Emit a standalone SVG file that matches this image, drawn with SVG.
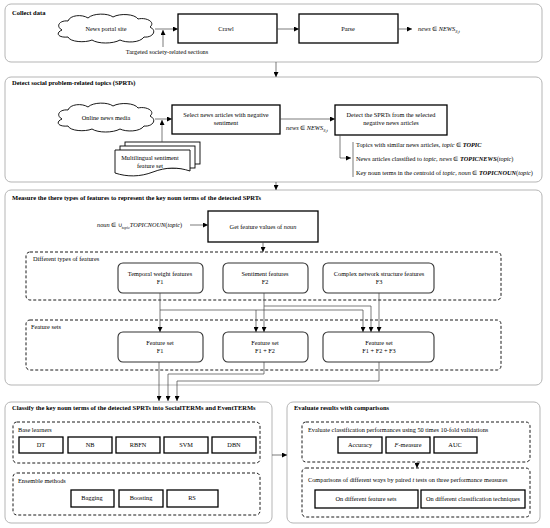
<svg xmlns="http://www.w3.org/2000/svg" xmlns:xlink="http://www.w3.org/1999/xlink" width="550" height="528" viewBox="0 0 550 528">
<defs>
<marker id="ah" markerUnits="userSpaceOnUse" markerWidth="5" markerHeight="5" refX="5" refY="2.5" orient="auto"><path d="M0,0 L5,2.5 L0,5 Z" fill="#000"/></marker>
<path id="cloud" d="M62,30 C55,26 60,20 68,21 C70,15 82,14 88,18 C93,13 108,13 113,17 C120,13 135,14 138,19 C146,17 156,22 150,27 C158,31 152,38 144,37 C140,43 126,43 120,40 C113,44 98,44 92,40 C85,43 70,42 68,37 C58,38 55,33 62,30 Z"/>
</defs>
<style>
text{font-family:"Liberation Serif","Times New Roman",serif;font-size:6.3px;fill:#000}
.t{font-weight:bold;font-size:6.5px}
.m{text-anchor:middle}
.i{font-style:italic}
.sec{fill:#fff;stroke:#b5b5b5;stroke-width:1}
.box{fill:#fff;stroke:#000;stroke-width:1.3}
.rbox{fill:#fff;stroke:#333;stroke-width:1.1}
.dash{fill:none;stroke:#000;stroke-width:0.9;stroke-dasharray:3,2}
.c{fill:none;stroke:#444;stroke-width:0.7}
.a{marker-end:url(#ah)}
.cl{fill:#fff;stroke:#000;stroke-width:0.9}
</style>
<rect width="550" height="528" fill="#fff"/>

<g id="sec1">
<rect class="sec" x="5" y="4" width="537" height="58" rx="6"/>
<text class="t" x="12" y="15">Collect data</text>
</g>
<g id="sec2">
<rect class="sec" x="5" y="77" width="537" height="105" rx="6"/>
<text class="t" x="12" y="85">Detect social problem-related topics (SPRTs)</text>
</g>
<g id="sec3">
<rect class="sec" x="5" y="190" width="537" height="195" rx="6"/>
<text class="t" x="12" y="200">Measure the there types of features to represent the key noun terms of the detected SPRTs</text>
</g>
<g id="sec4">
<rect class="sec" x="5" y="402" width="267" height="121" rx="6"/>
<text class="t" x="12" y="410">Classify the key noun terms of the detected SPRTs into SocialTERMs and EventTERMs</text>
</g>
<g id="sec5">
<rect class="sec" x="287" y="402" width="253" height="121" rx="6"/>
<text class="t" x="294" y="410">Evaluate results with comparisons</text>
</g>

<g id="newsportal">
<use xlink:href="#cloud" class="cl"/>
<text class="m" x="106" y="31">News portal site</text>
</g>
<g id="targeted"><text class="m" x="167" y="54">Targeted society-related sections</text></g>
<g id="crawl"><rect class="box" x="178" y="14" width="99" height="29"/><text class="m" x="226" y="31">Crawl</text></g>
<g id="parse"><rect class="box" x="299" y="14" width="99" height="29"/><text class="m" x="348" y="31">Parse</text></g>
<g id="newsout"><text x="418" y="31"><tspan class="i">news</tspan> ∈ <tspan class="i">NEWS</tspan><tspan class="i" font-size="4.5" dy="1.5">S,t</tspan></text></g>

<g id="onlinenews">
<use xlink:href="#cloud" class="cl" transform="translate(0,89)"/>
<text class="m" x="106" y="120">Online news media</text>
</g>
<g id="multilingual">
<rect class="cl" x="125" y="142" width="75" height="22"/>
<rect class="cl" x="120" y="146" width="75" height="22"/>
<path class="cl" d="M115,150 H190 V171 C178,167 166,167 153,172 C140,177 127,177 115,173 Z"/>
<text class="m" x="150" y="160">Multilingual sentiment</text>
<text class="m" x="150" y="168">feature set</text>
</g>
<g id="select"><rect class="box" x="172" y="105" width="108" height="29"/><text class="m" x="226" y="117">Select news articles with negative</text><text class="m" x="226" y="125">sentiment</text></g>
<g id="newslabel2"><text x="286" y="130"><tspan class="i">news</tspan> ∈ <tspan class="i">NEWS</tspan><tspan class="i" font-size="4.5" dy="1.5">S,t</tspan></text></g>
<g id="detect"><rect class="box" x="335" y="105" width="112" height="30"/><text class="m" x="391" y="117">Detect the SPRTs from the selected</text><text class="m" x="391" y="125">negative news articles</text></g>
<g id="outputs">
<text x="356" y="147">Topics with similar news articles, <tspan class="i">topic</tspan> ∈ <tspan class="i" font-weight="bold">TOPIC</tspan></text>
<text x="356" y="161">News articles classified to <tspan class="i">topic</tspan>, <tspan class="i">news</tspan> ∈ <tspan class="i" font-weight="bold">TOPICNEWS</tspan>(<tspan class="i">topic</tspan>)</text>
<text x="356" y="175">Key noun terms in the centroid of <tspan class="i">topic</tspan>, <tspan class="i">noun</tspan> ∈ <tspan class="i" font-weight="bold">TOPICNOUN</tspan>(<tspan class="i">topic</tspan>)</text>
</g>

<g id="nounlabel"><text x="97" y="227"><tspan class="i">noun</tspan> ∈ ∪<tspan class="i" font-size="4" dy="1.5">topic</tspan><tspan class="i" dy="-1.5">TOPICNOUN</tspan>(<tspan class="i">topic</tspan>)</text></g>
<g id="getfeature"><rect class="box" x="208" y="211" width="110" height="31"/><text class="m" x="263" y="229">Get feature values of <tspan class="i">noun</tspan></text></g>

<g id="difftypes"><rect class="dash" x="26" y="252" width="475" height="48" rx="4"/><text x="33" y="261">Different types of features</text></g>
<g id="f1"><rect class="rbox" x="118" y="263" width="85" height="30" rx="5"/><text class="m" x="160" y="276">Temporal weight features</text><text class="m" x="160" y="284">F1</text></g>
<g id="f2"><rect class="rbox" x="223" y="263" width="85" height="30" rx="5"/><text class="m" x="265" y="276">Sentiment features</text><text class="m" x="265" y="284">F2</text></g>
<g id="f3"><rect class="rbox" x="323" y="263" width="111" height="30" rx="5"/><text class="m" x="379" y="276">Complex network structure features</text><text class="m" x="379" y="284">F3</text></g>

<g id="featuresets"><rect class="dash" x="26" y="320" width="475" height="50" rx="4"/><text x="31" y="329">Feature sets</text></g>
<g id="fs1"><rect class="rbox" x="118" y="332" width="85" height="30" rx="5"/><text class="m" x="160" y="345">Feature set</text><text class="m" x="160" y="353">F1</text></g>
<g id="fs2"><rect class="rbox" x="223" y="332" width="85" height="30" rx="5"/><text class="m" x="265" y="345">Feature set</text><text class="m" x="265" y="353">F1 + F2</text></g>
<g id="fs3"><rect class="rbox" x="323" y="332" width="111" height="30" rx="5"/><text class="m" x="379" y="345">Feature set</text><text class="m" x="379" y="353">F1 + F2 + F3</text></g>

<g id="baselearners"><rect class="dash" x="13" y="422" width="247" height="41" rx="4"/><text x="18" y="432">Base learners</text></g>
<g id="dt"><rect class="box" x="19" y="437" width="44" height="16"/><text class="m" x="41" y="447">DT</text></g>
<g id="nb"><rect class="box" x="68" y="437" width="44" height="16"/><text class="m" x="90" y="447">NB</text></g>
<g id="rbfn"><rect class="box" x="116" y="437" width="44" height="16"/><text class="m" x="138" y="447">RBFN</text></g>
<g id="svm"><rect class="box" x="164" y="437" width="44" height="16"/><text class="m" x="186" y="447">SVM</text></g>
<g id="dbn"><rect class="box" x="212" y="437" width="44" height="16"/><text class="m" x="234" y="447">DBN</text></g>
<g id="ensemble"><rect class="dash" x="13" y="473" width="247" height="42" rx="4"/><text x="18" y="483">Ensemble methods</text></g>
<g id="bagging"><rect class="box" x="71" y="490" width="43" height="17"/><text class="m" x="92" y="500">Bagging</text></g>
<g id="boosting"><rect class="box" x="119" y="490" width="44" height="17"/><text class="m" x="141" y="500">Boosting</text></g>
<g id="rs"><rect class="box" x="167" y="490" width="51" height="17"/><text class="m" x="192" y="500">RS</text></g>

<g id="evalperf"><rect class="dash" x="302" y="422" width="228" height="40" rx="4"/><text x="308" y="432">Evaluate classification performances using 50 times 10-fold validations</text></g>
<g id="accuracy"><rect class="box" x="338" y="437" width="44" height="16"/><text class="m" x="360" y="447">Accuracy</text></g>
<g id="fmeasure"><rect class="box" x="386" y="437" width="44" height="16"/><text class="m" x="408" y="447"><tspan class="i">F</tspan>-measure</text></g>
<g id="auc"><rect class="box" x="434" y="437" width="43" height="16"/><text class="m" x="455" y="447">AUC</text></g>
<g id="comparisons"><rect class="dash" x="302" y="468" width="228" height="49" rx="4"/><text x="308" y="482">Comparisons of different ways by paired <tspan class="i">t</tspan> tests on three performance measures</text></g>
<g id="onfs"><rect class="box" x="315" y="490" width="103" height="18"/><text class="m" x="366" y="501">On different feature sets</text></g>
<g id="onct"><rect class="box" x="421" y="490" width="104" height="18"/><text class="m" x="473" y="501">On different classification techniques</text></g>

<g id="connectors">
<path class="c a" d="M155,29 H178"/>
<path class="c a" d="M163,47 V30"/>
<path class="c a" d="M277,29 H299"/>
<path class="c a" d="M398,29 H412"/>
<path class="c a" stroke="#000" d="M276,62 V77"/>
<path class="c a" d="M155,119 H172"/>
<path class="c a" d="M162,142 V120"/>
<path class="c a" d="M280,119 H335"/>
<path class="c a" d="M340,135 V158 H351"/>
<path class="c" d="M353,142 V177"/>
<path class="c a" stroke="#000" d="M276,182 V190"/>
<path class="c a" d="M190,225 H208"/>
<path class="c a" d="M263,242 V252"/>
<path class="c a" d="M160,293 V332"/>
<path class="c a" d="M160,310 H363 V332"/>
<path class="c a" d="M256,310 V332"/>
<path class="c a" d="M264,293 V332"/>
<path class="c a" d="M264,306 H371 V332"/>
<path class="c a" d="M379,293 V332"/>
<path class="c a" d="M159,362 V401"/>
<path class="c a" d="M264,362 V374 H168 V401"/>
<path class="c a" d="M379,362 V381 H177 V401"/>
<path class="c a" d="M272,455 H287"/>
<path class="c a" d="M417,462 V468"/>
</g>
</svg>
